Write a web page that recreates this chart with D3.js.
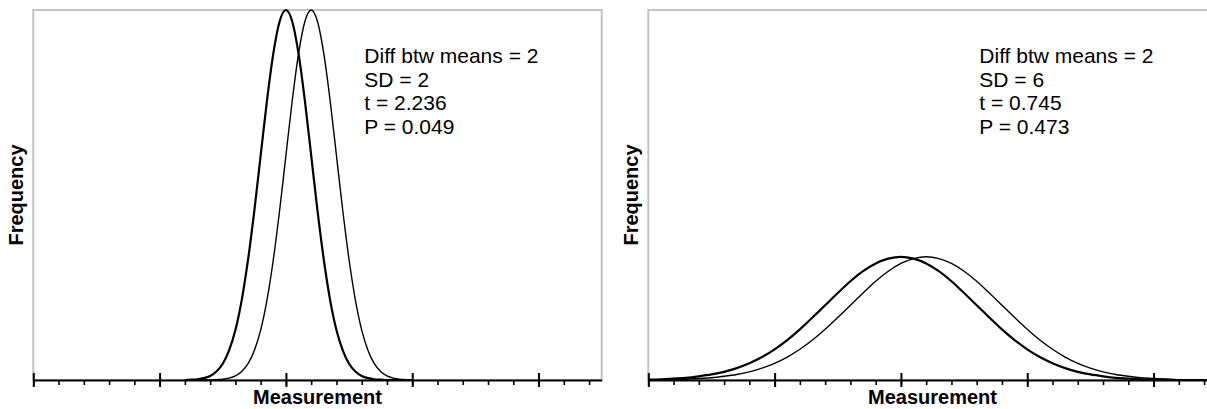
<!DOCTYPE html>
<html>
<head>
<meta charset="utf-8">
<script src="https://cdn.jsdelivr.net/npm/d3@7"></script>
<style>
  body { margin: 0; background: #fff; }
  svg { display: block; font-family: Arial, "Liberation Sans", sans-serif; }
</style>
</head>
<body>
<svg id="chart"></svg>
<script>
// measurement values (units) where the curves were read
let xNarrow = d3.range(-8, 10.01, 0.5);
let xWide = d3.range(-20, 25.01, 1);

// left panel: SD = 2, means 0 and 2 (frequency, % of the tallest peak)
let narrowA = [0, 0.1, 0.2, 0.5, 1.1, 2.3, 4.4, 8.0, 13.5, 21.6, 32.5, 45.8, 60.7, 75.5, 88.2, 96.9,
               100, 96.9, 88.2, 75.5, 60.7, 45.8, 32.5, 21.6, 13.5, 8.0, 4.4, 2.3, 1.1, 0.5, 0.2, 0.1,
               0, 0, 0, 0, 0];
let narrowB = [0, 0, 0, 0, 0, 0.1, 0.2, 0.5, 1.1, 2.3, 4.4, 8.0, 13.5, 21.6, 32.5, 45.8, 60.7, 75.5,
               88.2, 96.9, 100, 96.9, 88.2, 75.5, 60.7, 45.8, 32.5, 21.6, 13.5, 8.0, 4.4, 2.3, 1.1,
               0.5, 0.2, 0.1, 0];

// right panel: SD = 6, means 0 and 2
let wideA = [0.1, 0.2, 0.4, 0.6, 1.0, 1.5, 2.2, 3.2, 4.5, 6.2, 8.3, 10.8, 13.7, 16.9, 20.2, 23.5,
             26.7, 29.4, 31.5, 32.8, 33.3, 32.8, 31.5, 29.4, 26.7, 23.5, 20.2, 16.9, 13.7, 10.8,
             8.3, 6.2, 4.5, 3.2, 2.2, 1.5, 1.0, 0.6, 0.4, 0.2, 0.1, 0.1, 0, 0, 0, 0];
let wideB = [0, 0.1, 0.1, 0.2, 0.4, 0.6, 1.0, 1.5, 2.2, 3.2, 4.5, 6.2, 8.3, 10.8, 13.7, 16.9, 20.2,
             23.5, 26.7, 29.4, 31.5, 32.8, 33.3, 32.8, 31.5, 29.4, 26.7, 23.5, 20.2, 16.9, 13.7,
             10.8, 8.3, 6.2, 4.5, 3.2, 2.2, 1.5, 1.0, 0.6, 0.4, 0.2, 0.1, 0.1, 0, 0];

let majorTicks = [-20, -10, 0, 10, 20];
let minorTicks = d3.range(-20, 25, 2);

let statsLeft = ["Diff btw means = 2", "SD = 2", "t = 2.236", "P = 0.049"];
let statsRight = ["Diff btw means = 2", "SD = 6", "t = 0.745", "P = 0.473"];

let svgWidth = 1207;
let svgHeight = 409;
let plotTop = 10;
let plotBottom = 380;
let plotWidth = 568.4;

let svg = d3.select('#chart')
    .attr('width', svgWidth)
    .attr('height', svgHeight);

let y = d3.scaleLinear().domain([0, 100]).range([plotBottom, plotTop]);

let drawPanel = function(left, xs, curveA, curveB, stats) {
    let x = d3.scaleLinear().domain([-20, 25]).range([left, left + plotWidth]);
    let g = svg.append('g');

    g.append('rect')
        .attr('x', left).attr('y', plotTop)
        .attr('width', plotWidth).attr('height', plotBottom - plotTop)
        .attr('fill', 'none')
        .attr('stroke', '#c3c3c3')
        .attr('stroke-width', 2);

    let line = d3.line()
        .x((d, i) => x(xs[i]))
        .y(d => y(d))
        .curve(d3.curveMonotoneX);

    g.append('path').attr('d', line(curveB))
        .attr('fill', 'none').attr('stroke', '#000').attr('stroke-width', 1.4);
    g.append('path').attr('d', line(curveA))
        .attr('fill', 'none').attr('stroke', '#000').attr('stroke-width', 2.2);

    // minor ticks
    g.append('g')
        .attr('transform', 'translate(0,' + plotBottom + ')')
        .call(d3.axisBottom(x).tickValues(minorTicks).tickSize(5).tickSizeOuter(0).tickFormat(''))
        .call(a => a.select('.domain').attr('stroke-width', 2.2))
        .call(a => a.selectAll('.tick line').attr('stroke-width', 1.6));
    // major ticks cross the axis
    g.append('g')
        .attr('transform', 'translate(0,' + plotBottom + ')')
        .call(d3.axisBottom(x).tickValues(majorTicks).tickSize(7).tickFormat(''))
        .call(a => a.select('.domain').remove())
        .call(a => a.selectAll('.tick line').attr('y1', -7).attr('stroke-width', 2));

    g.append('text')
        .attr('x', left + plotWidth / 2).attr('y', 404)
        .attr('text-anchor', 'middle')
        .attr('font-size', 20).attr('font-weight', 'bold')
        .text('Measurement');

    g.append('text')
        .attr('transform', 'translate(' + (left - 10) + ',' + ((plotTop + plotBottom) / 2) + ') rotate(-90)')
        .attr('text-anchor', 'middle')
        .attr('font-size', 20).attr('font-weight', 'bold')
        .text('Frequency');

    g.append('g').selectAll('text')
        .data(stats).enter().append('text')
        .attr('x', left + 331)
        .attr('y', (d, i) => 63 + i * 23.5)
        .attr('font-size', 21)
        .text(d => d);
};

drawPanel(33.3, xNarrow, narrowA, narrowB, statsLeft);
drawPanel(648.3, xWide, wideA, wideB, statsRight);
</script>
</body>
</html>
